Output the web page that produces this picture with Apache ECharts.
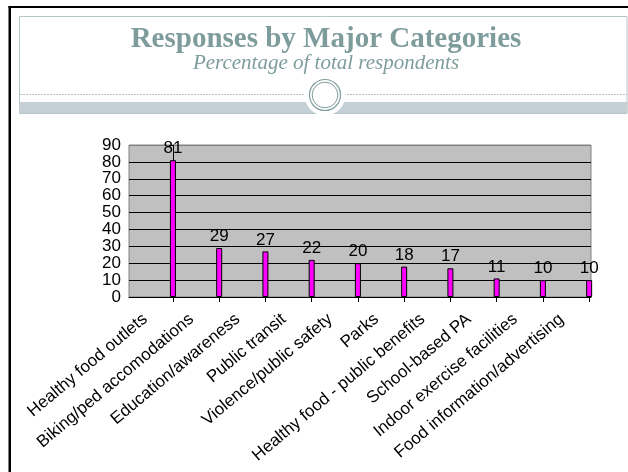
<!DOCTYPE html>
<html>
<head>
<meta charset="utf-8">
<script src="https://cdn.jsdelivr.net/npm/echarts@6/dist/echarts.min.js"></script>
<style>
  html, body { margin: 0; padding: 0; background: #fff; }
  #chart { width: 628px; height: 472px; }
</style>
</head>
<body>
<div id="chart"></div>
<script>
const titleText = 'Responses by Major Categories';
const subtitleText = 'Percentage of total respondents';
const categories = [
  'Healthy food outlets',
  'Biking/ped accomodations',
  'Education/awareness',
  'Public transit',
  'Violence/public safety',
  'Parks',
  'Healthy food - public benefits',
  'School-based PA',
  'Indoor exercise facilities',
  'Food information/advertising'
];
const values = [81, 29, 27, 22, 20, 18, 17, 11, 10, 10];
const yTicks = [0, 10, 20, 30, 40, 50, 60, 70, 80, 90];

const LABEL_SHIFT = 0.6;
const catIdx = categories.map((c, i) => i);
const barData = values.map((v, i) => [i, v]);
const labelPos = catIdx.map(i => i - LABEL_SHIFT);
const teal = '#7f9c9c';

const chart = echarts.init(document.getElementById('chart'), null, { renderer: 'canvas' });
chart.setOption({
  animation: false,
  backgroundColor: '#fff',
  title: {
    text: titleText,
    subtext: subtitleText,
    left: 321,
    top: 20,
    textAlign: 'center',
    itemGap: -1,
    textStyle: { fontFamily: 'Liberation Serif', fontWeight: 'bold', fontSize: 29, color: teal },
    subtextStyle: { fontFamily: 'Liberation Serif', fontStyle: 'italic', fontSize: 21, color: teal }
  },
  graphic: [
    { type: 'rect', z: -10, shape: { x: 19.5, y: 16.5, width: 607.5, height: 97 },
      style: { fill: '#fff', stroke: '#b3c6c8', lineWidth: 1 } },
    { type: 'line', z: -9, shape: { x1: 20, y1: 94.5, x2: 627, y2: 94.5 },
      style: { stroke: '#b9c1c1', lineWidth: 1, lineDash: [2, 1] } },
    { type: 'rect', z: -9, shape: { x: 19, y: 102, width: 608.5, height: 11 },
      style: { fill: '#c5d0d6' } },
    { type: 'circle', z: -8, shape: { cx: 325, cy: 95, r: 20.5 }, style: { fill: '#fff' } },
    { type: 'circle', z: -7, shape: { cx: 325, cy: 95, r: 15.5 }, style: { fill: 'none', stroke: teal, lineWidth: 1.2 } },
    { type: 'circle', z: -7, shape: { cx: 325, cy: 95, r: 12.8 }, style: { fill: 'none', stroke: teal, lineWidth: 1 } },
    { type: 'rect', z: 50, shape: { x: 8.5, y: 6, width: 2.5, height: 470 }, style: { fill: '#000' } },
    { type: 'rect', z: 50, shape: { x: 8.5, y: 6, width: 620, height: 2 }, style: { fill: '#000' } }
  ],
  grid: {
    left: 129, right: 37, top: 145, bottom: 175,
    show: true, backgroundColor: '#c0c0c0', borderColor: '#808080', borderWidth: 1
  },
  xAxis: {
    type: 'value',
    min: -0.95,
    max: 9.04,
    splitLine: { show: false },
    axisLine: { show: true, lineStyle: { color: '#000', width: 1 } },
    axisTick: { show: true, length: 5, customValues: catIdx, lineStyle: { color: '#000' } },
    axisLabel: {
      customValues: labelPos,
      rotate: 40,
      margin: 20,
      fontFamily: 'Liberation Sans',
      fontSize: 17,
      color: '#000',
      formatter: v => categories[Math.round(v + LABEL_SHIFT)] || ''
    }
  },
  yAxis: {
    type: 'value',
    min: 0,
    max: 90,
    interval: 10,
    axisLine: { show: true, lineStyle: { color: '#000', width: 1 } },
    axisTick: { show: true, length: 4, lineStyle: { color: '#000' } },
    axisLabel: {
      margin: 8,
      fontFamily: 'Liberation Sans',
      fontSize: 17,
      color: '#000',
      formatter: v => (yTicks.indexOf(v) >= 0 ? String(v) : '')
    },
    splitLine: {
      show: true,
      lineStyle: { color: ['#333', '#000', '#000', '#000', '#000', '#000', '#000', '#000', '#000', '#808080'], width: 1 }
    }
  },
  series: [{
    type: 'bar',
    data: barData,
    barWidth: 6,
    itemStyle: { color: '#ff00ff', borderColor: '#000', borderWidth: 1 },
    label: {
      show: true,
      position: 'top',
      distance: 3,
      fontFamily: 'Liberation Sans',
      fontSize: 17,
      color: '#000',
      formatter: p => String(p.value[1])
    }
  }]
});
</script>
</body>
</html>
